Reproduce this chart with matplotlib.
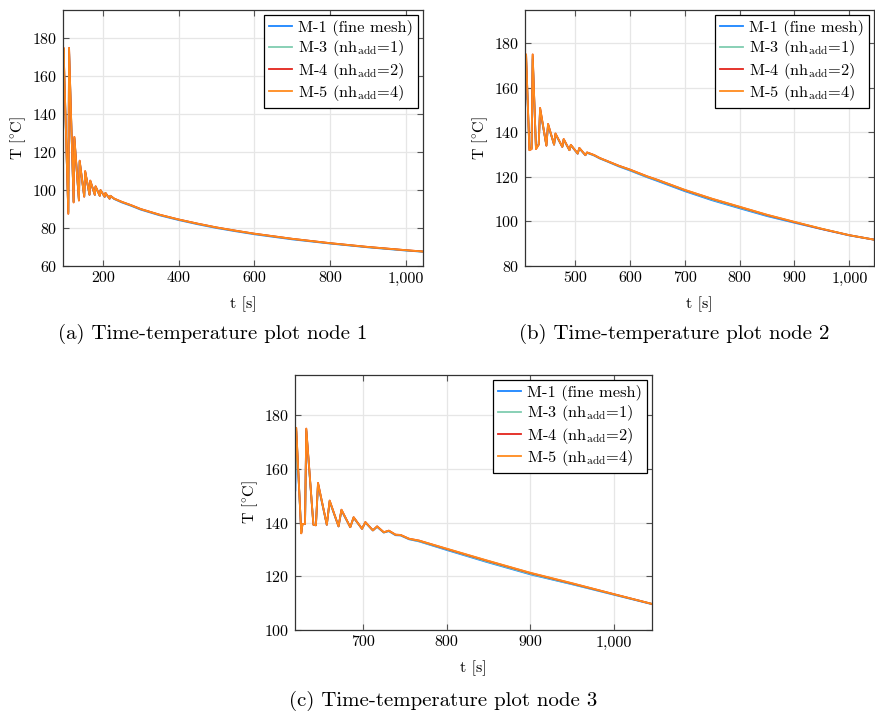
import matplotlib
matplotlib.use('Agg')
import matplotlib.pyplot as plt
from matplotlib.ticker import FuncFormatter

matplotlib.rcParams.update({
    'font.family': 'cmr10',
    'mathtext.fontset': 'cm',
    'axes.unicode_minus': False,
    'axes.formatter.use_mathtext': True,
    'font.size': 11.5,
})

"Datos"

labels = ['M-1 (fine mesh)', r'M-3 (nh$_{\rm add}$=1)',
          r'M-4 (nh$_{\rm add}$=2)', r'M-5 (nh$_{\rm add}$=4)']
colors = ['#1a85ff', '#7fcdb0', '#e3241b', '#ff8a1c']

# nodo 1
t1 = [95, 96.5, 109, 111, 123, 125, 137, 139, 151, 153.5, 165, 167, 179, 181,
      192, 194, 205, 207, 218, 220, 230, 250, 275, 300, 350, 400, 450, 500,
      550, 600, 700, 800, 900, 1000, 1045]
T1_m5 = [160, 175, 87.5, 175, 93.5, 128, 94.5, 115.5, 96.5, 110, 97.5, 105,
         97.5, 102, 97, 100, 96.5, 98.5, 95.5, 97, 95.5, 93.8, 92, 90, 87,
         84.5, 82.3, 80.3, 78.6, 77, 74.3, 72, 70, 68.3, 67.6]
T1_m4 = [165, 175, 87.5, 175, 93.5, 128, 94.5, 115.5, 96.5, 110, 97.5, 105,
         97.5, 102, 97, 100, 96.5, 98.5, 95.5, 97, 95.5, 93.8, 92, 90, 87,
         84.5, 82.3, 80.3, 78.6, 77, 74.3, 72, 70, 68.3, 67.6]
T1_m3 = [160, 174, 88, 174, 93.8, 127.5, 94.7, 115, 96.6, 109.6, 97.5, 104.8,
         97.5, 101.8, 97, 99.9, 96.5, 98.4, 95.5, 97, 95.4, 93.7, 91.9, 89.9,
         86.9, 84.4, 82.2, 80.2, 78.5, 76.9, 74.2, 71.9, 69.9, 68.2, 67.5]
T1_m1 = [155, 172, 88.5, 173, 94, 127, 95, 115, 96.7, 109.5, 97.6, 104.6,
         97.5, 101.7, 97, 99.8, 96.4, 98.3, 95.4, 96.9, 95.3, 93.5, 91.7, 89.7,
         86.7, 84.2, 82, 80, 78.3, 76.7, 74, 71.8, 69.8, 68.1, 67.5]

# nodo 2
t2 = [410, 411, 417, 421, 423, 429, 434, 436.5, 448, 451, 462, 464.5, 477,
      479.5, 490, 492.5, 505, 508, 519, 522, 535, 545, 560, 580, 600, 632,
      650, 700, 750, 800, 850, 900, 950, 1000, 1045]
T2_m5 = [165, 175, 132, 132.5, 175, 132.5, 134.5, 151, 134, 143.8, 134.5,
         139.5, 133.5, 137, 132, 134.4, 130.5, 133, 129.8, 131, 129.8, 128.5,
         127, 125, 123.3, 120.2, 118.7, 114.2, 110.2, 106.6, 103, 99.8, 96.7,
         93.8, 91.8]
T2_m4 = [168, 175, 132, 132.5, 175, 132.5, 134.5, 151, 134, 143.8, 134.5,
         139.5, 133.5, 137, 132, 134.4, 130.5, 133, 129.8, 131, 129.8, 128.5,
         127, 125, 123.3, 120.2, 118.7, 114.1, 110.1, 106.5, 102.9, 99.7, 96.6,
         93.8, 91.8]
T2_m3 = [160, 174, 132.5, 132.8, 174, 132.8, 134.6, 150.5, 134.1, 143.5,
         134.5, 139.3, 133.5, 136.8, 132, 134.3, 130.5, 132.9, 129.8, 130.9,
         129.7, 128.4, 126.9, 124.9, 123.1, 120, 118.5, 113.9, 109.8, 106.2,
         102.7, 99.6, 96.6, 93.8, 91.8]
T2_m1 = [155, 172, 133, 133, 173, 133, 134.7, 150, 134.2, 143.2, 134.5,
         139.1, 133.5, 136.7, 132, 134.2, 130.4, 132.8, 129.7, 130.8, 129.6,
         128.3, 126.8, 124.7, 122.9, 119.8, 118.2, 113.6, 109.5, 105.9, 102.4,
         99.4, 96.5, 93.7, 91.8]

# nodo 3
t3 = [619.5, 620.5, 626.5, 628, 631, 632.5, 641, 644, 646.5, 657, 660.4, 671,
      674.5, 685, 689, 699, 703, 712, 717, 725, 731, 739, 745, 755, 767, 800,
      847, 900, 950, 1000, 1045]
T3_m5 = [160, 175.3, 136, 139.5, 139.5, 175, 139.2, 139, 154.8, 139.2, 148.2,
         138.6, 144.8, 138.3, 142, 137.7, 140.2, 137.1, 138.6, 136.4, 137,
         135.5, 135.4, 134, 133.3, 130.3, 126, 121.3, 117.4, 113.3, 109.7]
T3_m4 = [165, 175.3, 136, 139.5, 139.5, 175, 139.2, 139, 154.8, 139.2, 148.2,
         138.6, 144.8, 138.3, 142, 137.7, 140.2, 137.1, 138.6, 136.4, 137,
         135.5, 135.4, 134, 133.3, 130.2, 125.9, 121.2, 117.3, 113.3, 109.7]
T3_m3 = [158, 174.5, 136.3, 139.5, 139.5, 174.5, 139.2, 139, 154.5, 139.2,
         148, 138.6, 144.6, 138.3, 141.9, 137.7, 140.1, 137.1, 138.5, 136.3,
         136.9, 135.4, 135.3, 133.9, 133.1, 130, 125.6, 120.9, 117.1, 113.2,
         109.7]
T3_m1 = [152, 174, 136.5, 139.5, 139.5, 174, 139.3, 139, 154.2, 139.2, 147.8,
         138.6, 144.5, 138.3, 141.8, 137.7, 140, 137.1, 138.4, 136.3, 136.8,
         135.3, 135.2, 133.8, 133, 129.8, 125.4, 120.7, 117, 113.1, 109.6]

panels = [
    (t1, [T1_m1, T1_m3, T1_m4, T1_m5], (95, 1045), (60, 195),
     [200, 400, 600, 800, 1000], range(60, 181, 20),
     '(a) Time-temperature plot node 1'),
    (t2, [T2_m1, T2_m3, T2_m4, T2_m5], (409, 1045), (80, 195),
     [500, 600, 700, 800, 900, 1000], range(80, 181, 20),
     '(b) Time-temperature plot node 2'),
    (t3, [T3_m1, T3_m3, T3_m4, T3_m5], (619, 1045), (100, 195),
     [700, 800, 900, 1000], range(100, 181, 20),
     '(c) Time-temperature plot node 3'),
]

"Grafico"

fig = plt.figure(figsize=(8.75, 7.11), dpi=100)
rects = [[0.072, 0.626, 0.4114, 0.360],
         [0.600, 0.626, 0.3989, 0.360],
         [0.3371, 0.114, 0.408, 0.3586]]
cap_pos = [(213 / 875, 1 - 334 / 711), (674 / 875, 1 - 334 / 711),
           (443 / 875, 1 - 701 / 711)]

comma = FuncFormatter(lambda v, p: '{:,.0f}'.format(v))

for (t, series, xl, yl, xt, yt, cap), r, cp in zip(panels, rects, cap_pos):
    ax = fig.add_axes(r)
    for T, c, lab in zip(series, colors, labels):
        ax.plot(t, T, color=c, lw=1.3, label=lab)
    ax.set_xlim(xl)
    ax.set_ylim(yl)
    ax.set_xticks(xt)
    ax.set_yticks(list(yt))
    ax.xaxis.set_major_formatter(comma)
    ax.grid(True, color='#e6e6e6', lw=0.9)
    ax.set_axisbelow(True)
    ax.tick_params(direction='in', top=True, right=True, length=4,
                   color='#555555', width=0.8, labelsize=11.5, pad=4)
    for s in ax.spines.values():
        s.set_color('#333333')
        s.set_linewidth(0.9)
    ax.set_xlabel('t [s]', labelpad=8)
    ax.set_ylabel(r'$\mathrm{T\ [^{\circ}C]}$', labelpad=3)
    leg = ax.legend(loc='upper right', fancybox=False, framealpha=1,
                    edgecolor='black', handlelength=1.4, handletextpad=0.4,
                    labelspacing=0.15, borderpad=0.3, borderaxespad=0.3,
                    fontsize=11.8)
    leg.get_frame().set_linewidth(0.9)
    fig.text(cp[0], cp[1], cap, ha='center', va='center', fontsize=15)

fig.savefig('out.png', dpi=100)
